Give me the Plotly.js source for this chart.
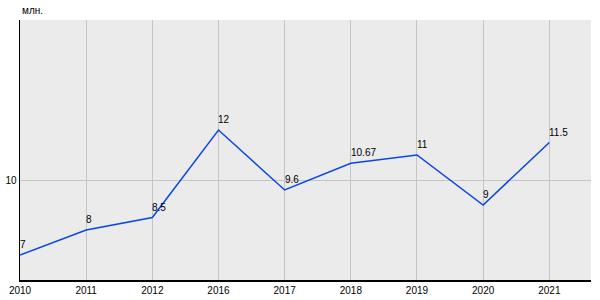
<!DOCTYPE html>
<html><head><meta charset="utf-8">
<script src="https://cdn.plot.ly/plotly-3.0.1.min.js"></script>
<style>html,body{margin:0;padding:0;background:#fff}#c{width:600px;height:300px}</style>
</head><body><div id="c"></div>
<script>
const years = ["2010","2011","2012","2016","2017","2018","2019","2020","2021"];
const values = [7, 8, 8.5, 12, 9.6, 10.67, 11, 9, 11.5];
const labels = ["7","8","8.5","12","9.6","10.67","11","9","11.5"];
const yTicks = [10];
const yUnit = "млн.";

// category axes: annotation x is the category's serial index
const valueNotes = years.map((yr, i) => ({
  x: i, y: values[i], text: labels[i], xref: "x", yref: "y",
  xanchor: "left", yanchor: "bottom", xshift: -2, yshift: 3,
  showarrow: false, font: {size: 10, color: "#000"}
}));

Plotly.newPlot("c", [{
  x: years, y: values, type: "scatter", mode: "lines",
  line: {color: "#0a46e6", width: 1.5},
  hoverinfo: "none"
}], {
  width: 600, height: 300,
  margin: {l: 20, r: 9, t: 20, b: 20},
  paper_bgcolor: "#fff", plot_bgcolor: "#ebebeb",
  showlegend: false,
  font: {family: "Liberation Sans, Arial, sans-serif", size: 10, color: "#000"},
  xaxis: {type: "category", range: [0, 8.63], showgrid: true, gridcolor: "#c4c4c4",
    showline: true, linecolor: "#000", linewidth: 1.5, ticks: "", zeroline: false,
    tickfont: {size: 10}},
  yaxis: {range: [6, 16.4], tickvals: yTicks, ticktext: yTicks.map(String), showgrid: true,
    gridcolor: "#c4c4c4", showline: true, linecolor: "#000", linewidth: 1.5, ticks: "",
    zeroline: false, tickfont: {size: 10}},
  annotations: [{text: yUnit, xref: "paper", yref: "paper", x: 0, y: 1, xanchor: "left",
    yanchor: "bottom", yshift: 2, showarrow: false, font: {size: 10}}].concat(valueNotes)
}, {staticPlot: true});
</script></body></html>
